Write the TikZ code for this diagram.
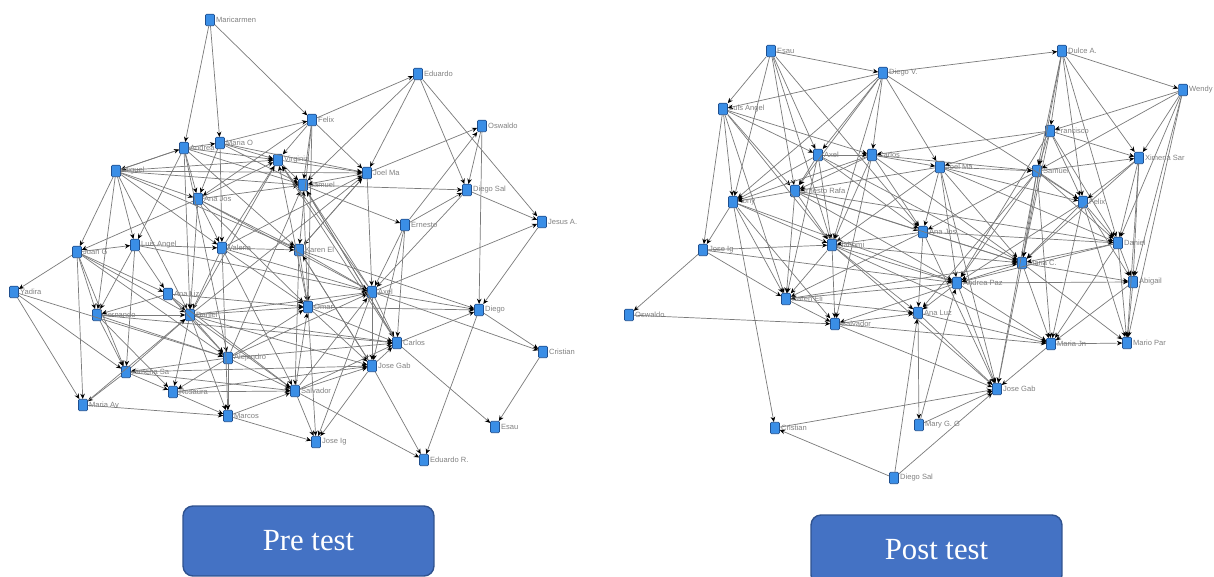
\documentclass[tikz,border=0pt]{standalone}
\usepackage{fontspec}
\setmainfont{Liberation Serif}
\setsansfont{Liberation Sans}
\usetikzlibrary{arrows.meta}

\definecolor{actorblue}{HTML}{3A8EE6}
\definecolor{actorrim}{HTML}{1F4F8F}
\definecolor{boxblue}{HTML}{4472C4}
\definecolor{boxrim}{HTML}{2F528F}

\tikzset{
  actor/.style={draw=actorrim, fill=actorblue, rounded corners=0.6pt, line width=0.3pt,
    minimum width=1.8mm, minimum height=2.3mm, inner sep=0pt},
  tag/.style={font=\sffamily\fontsize{4.3}{5}\selectfont, text=black!50, inner sep=0.6pt},
  tie/.style={draw=black!52, line width=0.4pt, -{Stealth[length=3pt, width=2.6pt, black]}},
  testbox/.style={draw=boxrim, fill=boxblue, line width=0.8pt, rounded corners=2mm,
    minimum width=5.02cm, minimum height=1.4cm, text=white, font=\fontsize{17.5}{20}\selectfont}
}

\begin{document}
\begin{tikzpicture}[x=0.02cm, y=-0.02cm]
    \useasboundingbox (0,0) rectangle (1214,577);

    % pre test
    \foreach \n/\x/\y/\t in {lmar/210/20/Maricarmen, ledu/418/74/Eduardo, lfel/312/120/Felix,
        losw/482/126/Oswaldo, lanp/184/148/Andrea P, lmao/220/143/Maria O, lvir/278/160/Virginia,
        ljoe/367/173/Joel Ma, lsam/303/185/Samuel, ldis/467/190/Diego Sal, lmig/116/171/Miguel,
        lanj/198/199/Ana Jos, lern/405/225/Ernesto, ljes/542/222/Jesus A., ljua/77/252/Juan G,
        llua/135/245/Luis Angel, lval/222/248/Valeria, lkar/299/250/Karen El, lyad/14/292/Yadira,
        lanl/168/294/Ana Liz, lfer/97/315/Fernando, ldan/190/315/Daniel, laxe/372/292/Axel,
        loma/308/307/Omar, ldie/479/310/Diego, lcar/397/343/Carlos, lale/228/358/Alejandro,
        lcri/543/352/Cristian, lxim/126/372/Ximena Sa, ljog/372/366/Jose Gab, lros/173/392/Rosaura,
        lsal/295/391/Salvador, lmaa/83/405/Maria Av, lmac/228/416/Marcos, lesa/495/427/Esau,
        ljoi/316/442/Jose Ig, ledr/424/460/Eduardo R.}
        \node[actor, label={[tag]right:\t}] (\n) at (\x,\y) {};

    \foreach \a/\b in {lmar/lanp, lmar/lmao, lmar/lfel, lfel/ledu, ledu/ldis, ledu/ljes, ledu/ljoe,
        ledu/lsam, ljoe/losw, losw/ldie, losw/ldis, lern/losw, lfel/ljoe, lfel/lvir, lfel/lsam,
        lfel/loma, lfel/lanj, lmao/lfel, lfel/lkar, lsam/ldis, lsam/lern, ljoe/lsam, lvir/ljoe,
        ljoe/laxe, ljoe/lkar, lvir/lsam, ldis/ljes, ldis/laxe, lern/ldis, lern/laxe, lern/lcar,
        lern/ljog, lsam/lcar, laxe/ljes, ljes/ldie, ldie/lcri, laxe/ldie, laxe/lcri, lcar/ldie,
        lcar/lesa, lcri/lesa, ldie/ledr, lsal/ledr, ljog/ledr, loma/ldie, lyad/lxim, lyad/lmaa,
        lyad/lale, ljua/lyad, ljua/llua, ljua/lfer, ljua/lmaa, ljua/lale, ljua/ldan, ljua/lanl,
        ljua/lxim, llua/lval, llua/lanl, llua/lxim, llua/lfer, lmig/llua, lmig/lfer, lmig/lanj,
        lmig/lvir, lmig/ljua, lmig/lkar, lmig/ldan, lmig/lsam, lanp/lanj, lanp/llua, lanp/lvir,
        lanp/lmig, lmao/lvir, lmao/lsam, lmao/ljoe, lanp/lsam, lanp/lale, lanp/ldan, lanp/lkar,
        lmao/lanj, lmao/lval, lanj/lkar, lanj/lval, lanj/ldan, lanj/laxe, lanj/lsam, lanj/lvir,
        lanj/loma, lanj/ljua, lval/lkar, lval/ldan, lval/lmac, lval/loma, lval/lsal, lval/laxe,
        lval/lvir, lkar/loma, lkar/laxe, lkar/lsal, lkar/ljoe, lkar/ljog, lanl/ldan, lanl/lale,
        lanl/lsal, lanl/lfer, lfer/ldan, lfer/lxim, lfer/lale, lfer/lros, ldan/lale, ldan/lros,
        ldan/lmac, ldan/loma, ldan/laxe, ldan/lsal, ldan/ljog, ldan/lcar, ldan/lvir, ldan/ljoe,
        lale/lmac, lale/lxim, lale/lros, lale/lsal, lale/lcar, lale/laxe, lale/loma, lale/lsam,
        lxim/lros, lxim/lmaa, lxim/ldan, lxim/lsal, lros/lsal, lros/lmac, lmaa/lmac, lmac/ljoi,
        lmac/lsal, lmaa/ldan, lsal/ljoi, lsal/ljog, lsal/lcar, lsal/laxe, lsal/loma, loma/laxe,
        loma/ljog, loma/lcar, loma/ljoi, loma/lvir, loma/lsam, laxe/lcar, laxe/ljog, laxe/ljoi,
        laxe/lsam, laxe/lvir, ljog/ljoi, ljog/lcar, lcar/lvir, lcar/lsam, ljog/lkar, lmig/ljoe,
        llua/laxe, lfer/lcar, lxim/ljog, lmig/lval, lros/ljog, lanl/loma, lval/ljoe, lanp/lmao,
        lmig/lanp, lkar/ldie}
        \draw[tie] (\a) -- (\b);

    % post test
    \foreach \n/\x/\y/\t in {resa/771/51/Esau, rdv/883/73/Diego V., rdul/1062/51/Dulce A.,
        rwen/1183/90/Wendy, rlua/723/109/Luis Angel, rfra/1050/131/Francisco, raxe/818/155/Axel,
        rcar/872/155/Carlos, rjoe/940/167/Joel Ma, rsam/1037/171/Samuel, rxim/1139/158/Ximena Sar,
        rern/795/191/Ernesto Rafa, rton/733/202/Tony, rfel/1083/202/Felix, ranj/923/232/Ana Jos,
        rdan/1118/243/Daniel, rjoi/703/250/Jose Ig, rnah/832/245/Nahomi, rmac/1022/263/Maria C.,
        rabi/1133/282/Abigail, ranp/957/283/Andrea Paz, rkar/786/299/Karen Eli, ranl/918/313/Ana Luz,
        rosw/629/315/Oswaldo, rsal/835/324/Salvador, rmaj/1051/344/Maria Jn, rmap/1127/343/Mario Par,
        rjog/997/389/Jose Gab, rmgg/919/425/Mary G. G, rcri/775/428/Cristian, rdis/894/478/Diego Sal}
        \node[actor, label={[tag]right:\t}] (\n) at (\x,\y) {};

    \foreach \a/\b in {resa/rdv, resa/rlua, resa/rton, resa/rern, resa/raxe, resa/ranj, resa/rnah,
        rdv/rlua, rdv/rdul, rdv/rcar, rdv/raxe, rdv/rern, rdv/rnah, rdv/rfel, rdv/rjoe, rdv/rton,
        rdul/rwen, rdul/rfra, rdul/rsam, rdul/rfel, rdul/rdan, rdul/rxim, rdul/rmac, rwen/rxim,
        rwen/rdan, rwen/rfra, rwen/rsam, rwen/rabi, rwen/rmap, rfra/rcar, rfra/rxim, rfra/rsam,
        rfra/ranp, rfra/rmac, rfra/rfel, rfra/rdan, rfra/rjoe, rlua/rton, rlua/rjoi, rlua/raxe,
        rlua/rcar, rlua/rern, rlua/rnah, rlua/rkar, raxe/rcar, raxe/rern, raxe/rnah, raxe/rton,
        raxe/rkar, raxe/ranj, raxe/rmac, rcar/rjoe, rcar/rern, rcar/rnah, rcar/rsal, rcar/ranj,
        rcar/rmac, rcar/rsam, rcar/rton, rjoe/rsam, rjoe/ranj, rjoe/rfel, rjoe/ranp, rjoe/rmac,
        rjoe/rern, rjoe/rdan, rjoe/rjog, rjoe/rnah, rsam/rxim, rsam/rfel, rsam/rmac, rsam/ranp,
        rsam/rmaj, rsam/rdan, rsam/ranj, rsam/rjog, rsam/ranl, rxim/rfel, rxim/rdan, rxim/rabi,
        rxim/rmap, rxim/rmac, rern/rton, rern/rnah, rern/rkar, rern/ranj, rern/rmac, rern/ranp,
        rern/rdan, rton/rjoi, rton/rnah, rton/rkar, rton/rcri, rton/ranp, rton/rsal, rfel/rdan,
        rfel/rabi, rfel/rmap, rfel/rmaj, rfel/ranp, rfel/rmac, ranj/rmac, ranj/rdan, ranj/ranl,
        ranj/rnah, ranj/rkar, ranj/rjog, rdan/rabi, rdan/rmap, rdan/rmac, rdan/ranp, rdan/rmaj,
        rjoi/rnah, rjoi/rosw, rjoi/rkar, rjoi/ranp, rnah/rkar, rnah/rsal, rnah/ranp, rnah/rmac,
        rnah/ranl, rnah/rjog, rnah/rmaj, rmac/rabi, rmac/ranp, rmac/rmaj, rmac/rmap, rmac/rjog,
        rabi/rmap, ranp/rabi, rabi/rmaj, ranp/ranl, ranp/rkar, ranp/rsal, ranp/rjog, ranp/rmaj,
        rmgg/ranp, rkar/rsal, rkar/ranl, rkar/rmac, ranl/rmgg, ranl/rmaj, ranl/rjog, rsal/ranl,
        rosw/rsal, rsal/rjog, rsal/rmaj, rmaj/rmap, rmaj/rjog, rcri/rjog, rdis/rcri, rdis/rjog,
        rdis/ranl, rmgg/rjog}
        \draw[tie] (\a) -- (\b);

    \node[testbox] (pre) at (308.5,541) {Pre test};
    \node[testbox] (post) at (936.5,550) {Post test};
\end{tikzpicture}
\end{document}
